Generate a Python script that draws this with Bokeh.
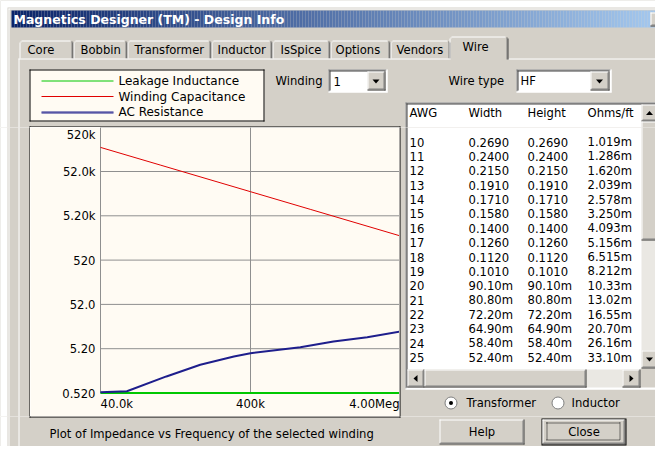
import math
from bokeh.plotting import figure
from bokeh.models import Range1d, Grid, ColumnDataSource
from bokeh.layouts import column, row
from bokeh.core.properties import value
from bokeh.embed import file_html
from bokeh.resources import INLINE

# ---------------- chart data ----------------
freq_cap = [40e3, 100e3, 400e3, 1e6, 4e6]
winding_capacitance = [182e3, 72.8e3, 18.2e3, 7.28e3, 1.82e3]
freq_res = [40e3, 60e3, 110e3, 185e3, 310e3, 400e3, 860e3, 1.43e6, 2.4e6, 4e6]
ac_resistance = [0.54, 0.57, 1.23, 2.26, 3.48, 4.11, 5.63, 7.58, 9.46, 12.7]
freq_leak = [40e3, 4e6]
leakage_inductance = [0.52, 0.52]
y_ticks = [0.52, 5.2, 52, 520, 5.2e3, 52e3, 520e3]
y_tick_labels = ["0.520", "5.20", "52.0", "520", "5.20k", "52.0k", "520k"]
x_ticks = [40e3, 400e3, 4e6]
x_tick_labels = ["40.0k", "400k", "4.00Meg"]
legend_labels = ["Leakage Inductance", "Winding Capacitance", "AC Resistance"]

# ---------------- table data ----------------
table_header = ["AWG", "Width", "Height", "Ohms/ft"]
awg = ["10", "11", "12", "13", "14", "15", "16", "17", "18", "19", "20", "21", "22", "23", "24", "25"]
wire_width = ["0.2690", "0.2400", "0.2150", "0.1910", "0.1710", "0.1580", "0.1400", "0.1260",
              "0.1120", "0.1010", "90.10m", "80.80m", "72.20m", "64.90m", "58.40m", "52.40m"]
wire_height = ["0.2690", "0.2400", "0.2150", "0.1910", "0.1710", "0.1580", "0.1400", "0.1260",
               "0.1120", "0.1010", "90.10m", "80.80m", "72.20m", "64.90m", "58.40m", "52.40m"]
ohms_per_ft = ["1.019m", "1.286m", "1.620m", "2.039m", "2.578m", "3.250m", "4.093m", "5.156m",
               "6.515m", "8.212m", "10.33m", "13.02m", "16.55m", "20.70m", "26.16m", "33.10m"]
tabs = ["Core", "Bobbin", "Transformer", "Inductor", "IsSpice", "Options", "Vendors", "Wire"]
title = "Magnetics Designer (TM) - Design Info"
caption = "Plot of Impedance vs Frequency of the selected winding"

# ---------------- styles ----------------
FACE = "#D4D0C8"
WHITE = "#FFFFFF"
SHADOW = "#808080"
DARK = "#404040"
BLACK = "#000000"
CREAM = "#FFFBF3"
TRACK = "#EAE8E3"
GRIDC = "#8F8F8F"
GREEN = "#00C800"
RED = "#E00000"
NAVY = "#1E1E8C"
FONT = "DejaVu Sans"
FS = "11.6px"

Q, S, D, T, P, C = [], [], [], [], [], []


def fill(x0, y0, x1, y1, c):
    Q.append((x0, y0, x1, y1, c))


def hline(x0, x1, y, c):
    S.append((x0, y + 0.5, x1, y + 0.5, c))


def vline(x, y0, y1, c):
    S.append((x + 0.5, y0, x + 0.5, y1, c))


def text(x, y, s, color=BLACK, size=FS, align="left", bold=False):
    T.append((x, y, s, color, size, align, bold))


def raised(x0, y0, x1, y1):
    fill(x0, y0, x1, y1, FACE)
    hline(x0, x1 - 1, y0, WHITE)
    vline(x0, y0, y1 - 1, WHITE)
    hline(x0, x1, y1 - 1, DARK)
    vline(x1 - 1, y0, y1, DARK)
    hline(x0 + 1, x1 - 1, y1 - 2, SHADOW)
    vline(x1 - 2, y0 + 1, y1 - 1, SHADOW)


def sunken(x0, y0, x1, y1, face):
    fill(x0, y0, x1, y1, face)
    hline(x0, x1 - 1, y0, SHADOW)
    vline(x0, y0, y1 - 1, SHADOW)
    hline(x0 + 1, x1 - 2, y0 + 1, DARK)
    vline(x0 + 1, y0 + 1, y1 - 2, DARK)
    hline(x0, x1, y1 - 1, WHITE)
    vline(x1 - 1, y0, y1, WHITE)


def arrow(cx, cy, d):
    if d == "down":
        P.append(([cx - 3.5, cx + 3.5, cx], [cy - 1.5, cy - 1.5, cy + 2.5]))
    elif d == "up":
        P.append(([cx - 3.5, cx + 3.5, cx], [cy + 2, cy + 2, cy - 2]))
    elif d == "left":
        P.append(([cx + 2, cx + 2, cx - 2], [cy - 3.5, cy + 3.5, cy]))
    else:
        P.append(([cx - 2, cx - 2, cx + 2], [cy - 3.5, cy + 3.5, cy]))


# ---------------- dialog decorations (picture pixel coordinates) ----------------
fill(0, 0, 700, 500, WHITE)
fill(7, 7, 700, 500, FACE)
hline(8, 700, 8, WHITE)
vline(8, 8, 500, WHITE)

# title bar gradient
c0, c1 = (10, 36, 106), (166, 202, 240)
xx = 11
while xx < 660:
    t = (xx - 11) / (660 - 11)
    col = "#%02x%02x%02x" % tuple(int(a + (b - a) * t) for a, b in zip(c0, c1))
    fill(xx, 10, xx + 3, 27, col)
    xx += 3
text(13, 19, title, WHITE, "12.5px", bold=True)
raised(650, 12, 667, 26)

# tabs
tab_bounds = [(19, 73), (73, 127), (127, 211), (211, 272), (272, 330), (330, 390), (390, 450)]
tab_text_x = [27, 80, 134, 217, 280, 335, 396]
for (a, b), tx, name in zip(tab_bounds, tab_text_x, tabs[:-1]):
    fill(a, 40, b, 58, FACE)
    hline(a + 2, b - 3, 40, WHITE)
    vline(a, 42, 58, WHITE)
    fill(a + 1, 41, a + 2, 42, WHITE)
    vline(b - 2, 42, 58, SHADOW)
    vline(b - 1, 42, 58, DARK)
    fill(b - 2, 41, b - 1, 42, DARK)
    text(tx, 49.5, name)
hline(18, 449, 58, WHITE)
hline(508, 700, 58, WHITE)
fill(449, 36, 508, 59, FACE)
hline(451, 505, 36, WHITE)
vline(449, 38, 59, WHITE)
fill(450, 37, 451, 38, WHITE)
vline(506, 38, 59, SHADOW)
vline(507, 38, 59, DARK)
fill(506, 37, 507, 38, DARK)
text(462, 46.5, tabs[-1])
vline(18, 58, 500, WHITE)

# legend box
fill(29, 69, 264, 121, CREAM)
hline(29, 264, 69, BLACK)
hline(29, 264, 120, BLACK)
vline(29, 69, 121, BLACK)
vline(263, 69, 121, BLACK)
S.append((41, 80.5, 113, 80.5, GREEN))
S.append((41, 96, 113, 96, RED))
S.append((41, 111.5, 113, 111.5, NAVY))
S.append((41, 112.5, 113, 112.5, NAVY))
for yy, lab in zip([80.5, 96, 111.5], legend_labels):
    text(118, yy, lab, size="12px")

# winding combo
text(275, 80, "Winding")
sunken(328, 69, 387, 92, WHITE)
raised(367, 71, 385, 90)
arrow(375.5, 80.5, "down")
text(333, 80.5, "1")

# wire type combo
text(448, 80, "Wire type")
sunken(516, 69, 611, 92, WHITE)
raised(590, 71, 609, 90)
arrow(599, 80.5, "down")
text(520, 80.5, "HF")

# chart box border (drawn by neighbours)
hline(29, 400, 126, BLACK)
vline(29, 126, 417, BLACK)
vline(399, 126, 417, BLACK)
hline(29, 400, 416, BLACK)

# list box
sunken(405, 102, 700, 389, WHITE)
col_x = [409, 468, 527, 587]
for cx, h in zip(col_x, table_header):
    text(cx, 112.7, h)
for i in range(len(awg)):
    yy = 141.5 + i * 14.38
    for cx, s in zip(col_x, [awg[i], wire_width[i], wire_height[i], ohms_per_ft[i]]):
        text(cx, yy, s)
# vertical scrollbar
fill(641, 104, 658, 368, TRACK)
raised(641, 104, 658, 121)
arrow(649, 112.5, "up")
raised(641, 121, 658, 240)
raised(641, 350, 658, 368)
arrow(649, 358.5, "down")
# horizontal scrollbar
fill(407, 369, 641, 387, TRACK)
raised(407, 369, 424, 387)
arrow(415, 378, "left")
raised(424, 369, 586, 387)
raised(622, 369, 640, 387)
arrow(631, 378, "right")
fill(640, 368, 658, 387, FACE)

# radio buttons
C.append((450.5, 402.5, WHITE, SHADOW))
C.append((557.5, 402.5, WHITE, SHADOW))
text(466, 402.5, "Transformer")
text(571, 402.5, "Inductor")

# buttons
raised(439, 419, 524, 444)
text(481.5, 431, "Help", align="center")
fill(541, 418, 626, 445, BLACK)
raised(542, 419, 625, 444)
D.append((546, 422.5, 620, 422.5))
D.append((546, 439.5, 620, 439.5))
D.append((546.5, 422, 546.5, 440))
D.append((619.5, 422, 619.5, 440))
text(583.5, 431, "Close", align="center")

text(49, 433, caption)


def canvas(x0, y0, x1, y1):
    p = figure(width=x1 - x0, height=y1 - y0, x_range=Range1d(x0, x1), y_range=Range1d(y1, y0),
               output_backend="svg", toolbar_location=None, min_border=0,
               x_axis_location=None, y_axis_location=None,
               background_fill_color=FACE, border_fill_color=FACE, outline_line_color=None)
    for g in p.select(type=Grid):
        g.visible = False
    p.quad(source=ColumnDataSource(dict(l=[q[0] for q in Q], t=[q[1] for q in Q], r=[q[2] for q in Q],
                                        b=[q[3] for q in Q], c=[q[4] for q in Q])),
           left="l", right="r", top="t", bottom="b", fill_color="c", line_color=None)
    p.segment(source=ColumnDataSource(dict(x0=[s[0] for s in S], y0=[s[1] for s in S], x1=[s[2] for s in S],
                                           y1=[s[3] for s in S], c=[s[4] for s in S])),
              x0="x0", y0="y0", x1="x1", y1="y1", line_color="c", line_width=1)
    p.segment(x0=[d[0] for d in D], y0=[d[1] for d in D], x1=[d[2] for d in D], y1=[d[3] for d in D],
              line_color=BLACK, line_width=1, line_dash="1 1")
    p.patches(xs=[pp[0] for pp in P], ys=[pp[1] for pp in P], fill_color=BLACK, line_color=None)
    p.scatter(x=[c[0] for c in C], y=[c[1] for c in C], size=12, marker="circle",
              fill_color=WHITE, line_color=SHADOW, line_width=1)
    p.scatter(x=[C[0][0]], y=[C[0][1]], size=4, marker="circle", fill_color=BLACK, line_color=None)
    for (x, y, s, color, size, align, bold) in T:
        if x0 <= x < x1 and y0 <= y < y1:
            p.text(x=[x], y=[y], text=[s], text_font=value(FONT), text_font_size=size,
                   text_color=color, text_align=align, text_baseline="middle",
                   text_font_style="bold" if bold else "normal")
    return p


RIGHT_EDGE, BOTTOM_EDGE = 655, 446
top = canvas(0, 0, RIGHT_EDGE, 127)
left = canvas(0, 127, 30, 416)
right = canvas(399, 127, RIGHT_EDGE, 416)
bottom = canvas(0, 416, RIGHT_EDGE, BOTTOM_EDGE)

# ---------------- the chart ----------------
CW, CH = 369, 289
px_40k = 70.0
x_dec = 150.0
py_top_tick = -0.3
py_bottom_tick = 265.5
y_dec = (py_bottom_tick - py_top_tick) / 6
x_start = x_ticks[0] * 10 ** (-px_40k / x_dec)
x_end = x_ticks[0] * 10 ** ((CW - px_40k) / x_dec)
y_start = y_ticks[0] * 10 ** (-(CH - py_bottom_tick) / y_dec)
y_end = y_ticks[-1] * 10 ** (py_top_tick / y_dec)

chart = figure(width=CW, height=CH, x_axis_type="log", y_axis_type="log",
               x_range=Range1d(x_start, x_end), y_range=Range1d(y_start, y_end),
               x_axis_location=None, y_axis_location=None, min_border=0,
               toolbar_location=None, output_backend="svg",
               background_fill_color=CREAM, border_fill_color=CREAM, outline_line_color=None)
for g in chart.select(type=Grid):
    g.visible = False

# grid lines
chart.segment(x0=[x_ticks[0]] * len(y_ticks), y0=y_ticks, x1=[x_ticks[-1]] * len(y_ticks), y1=y_ticks,
              line_color=GRIDC, line_width=1)
chart.segment(x0=x_ticks[:2], y0=[y_ticks[0]] * 2, x1=x_ticks[:2], y1=[y_ticks[-1]] * 2,
              line_color=GRIDC, line_width=1)

chart.line(freq_leak, leakage_inductance, line_color=GREEN, line_width=2)
chart.line(freq_cap, winding_capacitance, line_color=RED, line_width=1)
chart.line(freq_res, ac_resistance, line_color=NAVY, line_width=2)

chart.text(x=[x_ticks[0]] * len(y_ticks), y=y_ticks, text=y_tick_labels,
           x_offset=-5, y_offset=[0] * (len(y_ticks) - 1) + [8],
           text_font=value(FONT), text_font_size=FS, text_color=BLACK,
           text_align="right", text_baseline="middle")
for xt, lab, al, xo in zip(x_ticks, x_tick_labels, ["left", "center", "right"], [0, 0, -1]):
    chart.text(x=[xt], y=[y_ticks[0]], text=[lab], x_offset=xo, y_offset=11,
               text_font=value(FONT), text_font_size=FS, text_color=BLACK,
               text_align=al, text_baseline="middle")

layout = column(top, row(left, chart, right), bottom)
open("out.html", "w").write(file_html(layout, INLINE))
